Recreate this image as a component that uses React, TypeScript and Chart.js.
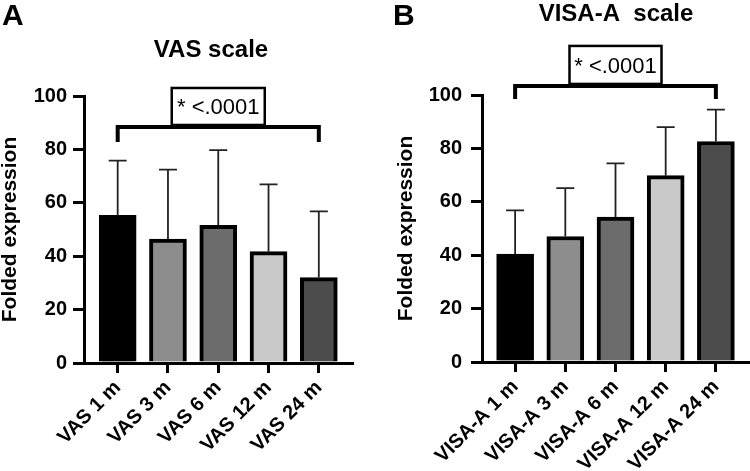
import React, { useEffect, useRef } from 'react';
import { Chart, registerables } from 'chart.js';

Chart.register(...registerables);

const FONT = "'Liberation Sans', Arial, Helvetica, sans-serif";

// ---- data ----
const vasLabels = ['VAS 1 m', 'VAS 3 m', 'VAS 6 m', 'VAS 12 m', 'VAS 24 m'];
const vasMeans = [55.3, 46.4, 51.6, 41.7, 32.0];
const vasSD = [20.5, 26.0, 28.1, 25.2, 24.8];

const visaLabels = ['VISA-A 1 m', 'VISA-A 3 m', 'VISA-A 6 m', 'VISA-A 12 m', 'VISA-A 24 m'];
const visaMeans = [40.4, 47.0, 54.3, 69.8, 82.6];
const visaSD = [16.4, 18.1, 20.1, 18.2, 11.9];

const yTicks = [0, 20, 40, 60, 80, 100];
const barColors = ['#000000', '#8d8d8d', '#6c6c6c', '#c9c9c9', '#4c4c4c'];

const yTitle = 'Folded expression';
const sigLabel = '* <.0001';

type Panel = {
  letter: string;
  title: string;
  labels: string[];
  means: number[];
  sd: number[];
  xMin: number;
  xMax: number;
  yWidth: number;
  yTitlePad: number;
  yTickPad: number;
  padTop: number;
  padRight: number;
  xHeight: number;
  titleX: number;
  titleY: number;
  letterX: number;
  letterY: number;
  bracketY: number; // in data units
  legPx: number;
  boxW: number;
  boxH: number;
};

const panels: Panel[] = [
  {
    letter: 'A',
    title: 'VAS scale',
    labels: vasLabels,
    means: vasMeans,
    sd: vasSD,
    xMin: -0.67,
    xMax: 4.66,
    yWidth: 84,
    yTitlePad: 0,
    yTickPad: 6,
    padTop: 96,
    padRight: 23,
    xHeight: 108,
    titleX: 211,
    titleY: 57,
    letterX: 2,
    letterY: 25,
    bracketY: 88.4,
    legPx: 15,
    boxW: 93,
    boxH: 37,
  },
  {
    letter: 'B',
    title: 'VISA-A  scale',
    labels: visaLabels,
    means: visaMeans,
    sd: visaSD,
    xMin: -0.66,
    xMax: 4.64,
    yWidth: 107,
    yTitlePad: 21,
    yTickPad: 9,
    padTop: 95,
    padRight: 2,
    xHeight: 109,
    titleX: 241,
    titleY: 21,
    letterX: 18,
    letterY: 25,
    bracketY: 103.4,
    legPx: 13,
    boxW: 92,
    boxH: 38,
  },
];

const decorPlugin = {
  id: 'panelDecor',
  afterDatasetsDraw(chart: any, _args: any, opts: any) {
    const p: Panel = opts.panel;
    const ctx = chart.ctx;
    const ys = chart.scales.y;
    const meta = chart.getDatasetMeta(0);
    ctx.save();
    // error bars (upper SD only)
    ctx.strokeStyle = '#222';
    ctx.lineWidth = 1.8;
    meta.data.forEach((el: any, i: number) => {
      const top = ys.getPixelForValue(p.means[i] + p.sd[i]);
      ctx.beginPath();
      ctx.moveTo(el.x, el.y);
      ctx.lineTo(el.x, top);
      ctx.moveTo(el.x - 9, top);
      ctx.lineTo(el.x + 9, top);
      ctx.stroke();
    });
    ctx.restore();
  },
  afterDraw(chart: any, _args: any, opts: any) {
    const p: Panel = opts.panel;
    const ctx = chart.ctx;
    const xs = chart.scales.x;
    const ys = chart.scales.y;
    ctx.save();
    ctx.fillStyle = '#000';
    ctx.strokeStyle = '#000';
    // panel letter
    ctx.font = `bold 30px ${FONT}`;
    ctx.textAlign = 'left';
    ctx.textBaseline = 'alphabetic';
    ctx.fillText(p.letter, p.letterX, p.letterY);
    // title
    ctx.font = `bold 24px ${FONT}`;
    ctx.textAlign = 'center';
    ctx.fillText(p.title, p.titleX, p.titleY);
    // bracket
    const x0 = xs.getPixelForValue(0);
    const x1 = xs.getPixelForValue(p.labels.length - 1);
    const by = ys.getPixelForValue(p.bracketY);
    ctx.lineWidth = 4;
    ctx.lineCap = 'butt';
    ctx.beginPath();
    ctx.moveTo(x0, by + p.legPx);
    ctx.lineTo(x0, by);
    ctx.lineTo(x1, by);
    ctx.lineTo(x1, by + p.legPx);
    ctx.stroke();
    // box
    const cx = (x0 + x1) / 2;
    ctx.fillStyle = '#fff';
    ctx.fillRect(cx - p.boxW / 2, by - 2 - p.boxH, p.boxW, p.boxH);
    ctx.lineWidth = 2.5;
    ctx.strokeRect(cx - p.boxW / 2, by - 2 - p.boxH, p.boxW, p.boxH);
    ctx.fillStyle = '#000';
    ctx.font = `22px ${FONT}`;
    ctx.textAlign = 'center';
    ctx.textBaseline = 'alphabetic';
    ctx.fillText(sigLabel, cx, by - 2 - p.boxH / 2 + 8);
    ctx.restore();
  },
};

function makeConfig(p: Panel): any {
  const tickFont = { family: FONT, size: 20, weight: 'bold' as const };
  return {
    type: 'bar',
    data: {
      datasets: [
        {
          data: p.means.map((v, i) => ({ x: i, y: v })),
          backgroundColor: barColors,
          borderColor: '#000',
          borderWidth: 4,
          borderSkipped: 'start',
          barThickness: 37,
        },
      ],
    },
    options: {
      responsive: false,
      animation: false,
      devicePixelRatio: 1,
      layout: { padding: { left: 0, top: p.padTop, right: p.padRight, bottom: 0 } },
      plugins: {
        legend: { display: false },
        title: { display: false },
        tooltip: { enabled: false },
        panelDecor: { panel: p },
      },
      scales: {
        x: {
          type: 'linear',
          offset: false,
          min: p.xMin,
          max: p.xMax,
          afterBuildTicks: (s: any) => {
            s.ticks = p.labels.map((_, i) => ({ value: i }));
          },
          afterFit: (s: any) => {
            s.height = p.xHeight;
            s.paddingLeft = 0;
            s.paddingRight = 0;
          },
          ticks: {
            autoSkip: false,
            minRotation: 45,
            maxRotation: 45,
            padding: 3,
            color: '#000',
            font: tickFont,
            callback: (_v: any, i: number) => p.labels[i],
          },
          grid: { offset: false, drawOnChartArea: false, drawTicks: true, tickLength: 10, color: '#000', lineWidth: 3 },
          border: { display: true, color: '#000', width: 3 },
        },
        y: {
          min: 0,
          max: 100,
          afterBuildTicks: (s: any) => {
            s.ticks = yTicks.map((v) => ({ value: v }));
          },
          afterFit: (s: any) => {
            s.width = p.yWidth;
            s.paddingTop = 0;
            s.paddingBottom = 0;
          },
          ticks: { padding: p.yTickPad, color: '#000', font: tickFont },
          grid: { drawOnChartArea: false, drawTicks: true, tickLength: 11, color: '#000', lineWidth: 3 },
          border: { display: true, color: '#000', width: 3 },
          title: {
            display: true,
            text: yTitle,
            color: '#000',
            padding: { top: p.yTitlePad, bottom: 0 },
            font: { family: FONT, size: 21, weight: 'bold', lineHeight: 1 },
          },
        },
      },
    },
    plugins: [decorPlugin],
  };
}

function PanelChart({ p }: { p: Panel }) {
  const ref = useRef<HTMLCanvasElement | null>(null);
  useEffect(() => {
    if (!ref.current) return;
    const chart = new Chart(ref.current, makeConfig(p));
    return () => chart.destroy();
  }, [p]);
  return <canvas ref={ref} width={375} height={471} style={{ display: 'block', width: 375, height: 471 }} />;
}

export default function App() {
  return (
    <div
      style={{
        position: 'fixed',
        left: 0,
        top: 0,
        width: 750,
        height: 471,
        background: '#fff',
        display: 'flex',
        flexDirection: 'row',
      }}
    >
      {panels.map((p) => (
        <PanelChart key={p.letter} p={p} />
      ))}
    </div>
  );
}
